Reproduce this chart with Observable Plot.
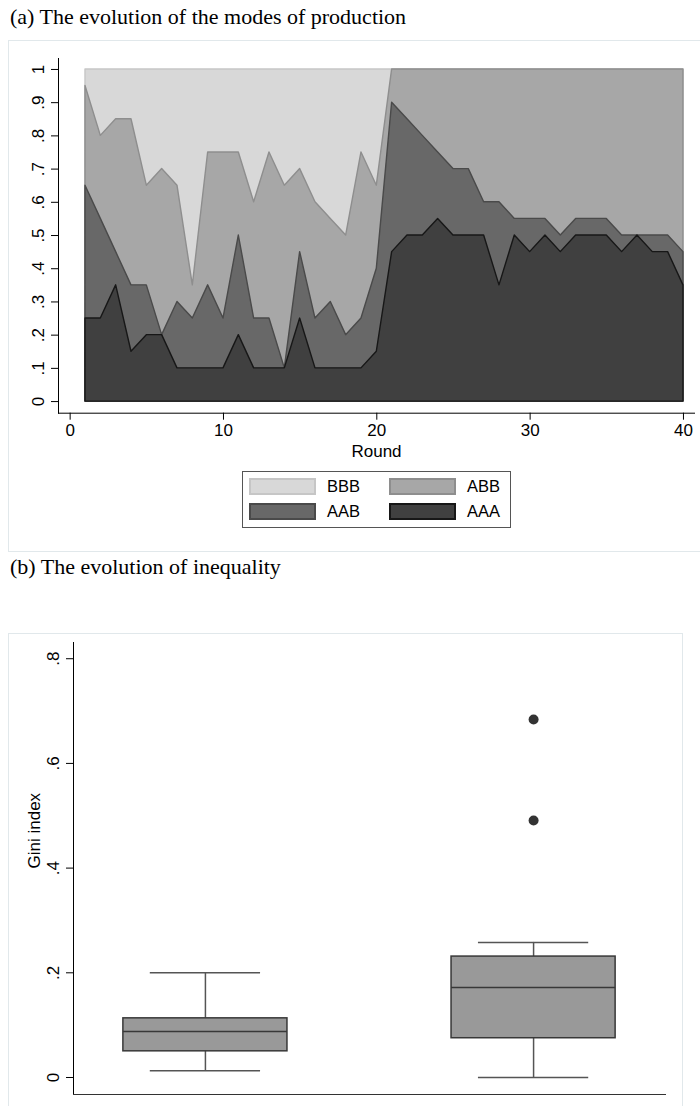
<!DOCTYPE html>
<html>
<head>
<meta charset="utf-8">
<script src="https://cdn.jsdelivr.net/npm/d3@7"></script>
<script src="https://cdn.jsdelivr.net/npm/@observablehq/plot@0.6"></script>
<style>
  body { margin: 0; background: #fff; }
  #page { position: relative; width: 700px; height: 1106px; overflow: hidden;
          font-family: "Liberation Sans", Arial, sans-serif; }
  .title { position: absolute; left: 10px; font-family: "Liberation Serif", "Times New Roman", serif;
           font-size: 22px; line-height: 26px; color: #000; white-space: nowrap; }
  .panel { position: absolute; border: 1px solid #e1e8eb; box-sizing: border-box; }
  .chart { position: absolute; left: 0; }
  .chart g[aria-label$="tick label"] { font-size: 17px; }
  #legend { position: absolute; left: 242px; top: 471px; width: 269px; height: 57px;
            border: 1px solid #555; box-sizing: border-box; background: #fff; }
  .key { position: absolute; width: 67px; height: 17px; border: 2px solid; box-sizing: border-box; }
  .lab { position: absolute; font-size: 16.5px; line-height: 17px; color: #000; }
</style>
</head>
<body>
<div id="page">
  <div class="panel" style="left:8px; top:40px; width:720px; height:512px;"></div>
  <div class="panel" style="left:8px; top:633px; width:675px; height:500px;"></div>
  <div class="title" style="top:4px;">(a) The evolution of the modes of production</div>
  <div class="title" style="top:554px;">(b) The evolution of inequality</div>
  <div class="chart" id="top" style="top:0px;"></div>
  <div id="legend"></div>
  <div class="chart" id="bottom" style="top:600px;"></div>
</div>
<script>
// ---- Panel (a): share of groups using each mode of production, by round ----
const rounds = [1, 2, 3, 4, 5, 6, 7, 8, 9, 10, 11, 12, 13, 14, 15, 16, 17, 18, 19, 20,
                21, 22, 23, 24, 25, 26, 27, 28, 29, 30, 31, 32, 33, 34, 35, 36, 37, 38, 39, 40];
const shareAAA = [.25, .25, .35, .15, .20, .20, .10, .10, .10, .10, .20, .10, .10, .10, .25, .10, .10, .10, .10, .15,
                  .45, .50, .50, .55, .50, .50, .50, .35, .50, .45, .50, .45, .50, .50, .50, .45, .50, .45, .45, .35];
const shareAAB = [.40, .30, .10, .20, .15, .00, .20, .15, .25, .15, .30, .15, .15, .00, .20, .15, .20, .10, .15, .25,
                  .45, .35, .30, .20, .20, .20, .10, .25, .05, .10, .05, .05, .05, .05, .05, .05, .00, .05, .05, .10];
const shareABB = [.30, .25, .40, .50, .30, .50, .35, .10, .40, .50, .25, .35, .50, .55, .25, .35, .25, .30, .50, .25,
                  .10, .15, .20, .25, .30, .30, .40, .40, .45, .45, .45, .50, .45, .45, .45, .50, .50, .50, .50, .55];
const shareBBB = [.05, .20, .15, .15, .35, .30, .35, .65, .25, .25, .25, .40, .25, .35, .30, .40, .45, .50, .25, .35,
                  0, 0, 0, 0, 0, 0, 0, 0, 0, 0, 0, 0, 0, 0, 0, 0, 0, 0, 0, 0];
const modes = ["BBB", "ABB", "AAB", "AAA"];          // legend / drawing order
const roundTicks = [0, 10, 20, 30, 40];
const shareTicks = [0, .1, .2, .3, .4, .5, .6, .7, .8, .9, 1];

// ---- Panel (b): Gini index box plots ----
const boxGroups = [1, 2];
const giniLow = [0.013, 0.0];
const giniQ1 = [0.050, 0.075];
const giniMedian = [0.088, 0.172];
const giniQ3 = [0.113, 0.231];
const giniHigh = [0.200, 0.258];
const outlierGroup = [2, 2];
const outlierGini = [0.491, 0.684];
const giniTicks = [0, .2, .4, .6, .8];

const fills = {BBB: "#d8d8d8", ABB: "#a7a7a7", AAB: "#686868", AAA: "#404040"};
const strokes = {BBB: "#c6c6c6", ABB: "#8e8e8e", AAB: "#4a4a4a", AAA: "#171717"};
const shareOf = {AAA: shareAAA, AAB: shareAAB, ABB: shareABB, BBB: shareBBB};

// cumulative top of each mode, stacking AAA at the bottom
const rows = [];
rounds.forEach((r, i) => {
  let cum = 0;
  for (const m of ["AAA", "AAB", "ABB", "BBB"]) {
    cum += shareOf[m][i];
    rows.push({round: r, mode: m, top: Math.round(cum * 1000) / 1000});
  }
});

const stataFmt = d => d === 0 ? "0" : d === 1 ? "1" : d3.format(".1f")(d).replace(/^0/, "");
const font = {fontFamily: "'Liberation Sans', Arial, sans-serif", fontSize: "17px", background: "transparent", color: "#000"};

const topChart = Plot.plot({
  width: 700, height: 470,
  marginLeft: 58, marginRight: 6, marginTop: 58, marginBottom: 57.3,
  style: font,
  x: {domain: [-0.76, 40.72], label: null},
  y: {domain: [-0.035, 1.033], label: null},
  marks: [
    ...modes.map(m => Plot.areaY(rows.filter(d => d.mode === m), {
      x: "round", y1: 0, y2: "top", fill: fills[m], stroke: strokes[m], strokeWidth: 1.4, curve: "linear"
    })),
    Plot.frame({anchor: "left", stroke: "#000"}),
    Plot.frame({anchor: "bottom", stroke: "#000"}),
    Plot.axisY({ticks: shareTicks, tickFormat: stataFmt, tickRotate: -90, tickSize: 7, tickPadding: 8, label: null}),
    Plot.axisX({ticks: roundTicks, tickSize: 7, tickPadding: 4, label: null}),
    Plot.text(["Round"], {frameAnchor: "bottom", dy: 44, fontSize: 17})
  ]
});
document.getElementById("top").appendChild(topChart);

// legend: two columns, BBB/ABB on the first row, AAB/AAA on the second
const legend = document.getElementById("legend");
modes.forEach((m, i) => {
  const col = i % 2, row = Math.floor(i / 2);
  const key = document.createElement("div");
  key.className = "key";
  key.style.left = (6 + col * 140) + "px";
  key.style.top = (6 + row * 25) + "px";
  key.style.background = fills[m];
  key.style.borderColor = strokes[m];
  legend.appendChild(key);
  const lab = document.createElement("div");
  lab.className = "lab";
  lab.textContent = m;
  lab.style.left = (84 + col * 140) + "px";
  lab.style.top = (6 + row * 25) + "px";
  legend.appendChild(lab);
});

const boxes = boxGroups.map((g, i) => ({
  g, lo: giniLow[i], q1: giniQ1[i], med: giniMedian[i], q3: giniQ3[i], hi: giniHigh[i]
}));
const outliers = outlierGroup.map((g, i) => ({g, gini: outlierGini[i]}));
const half = 0.25, cap = 0.168;

const bottomChart = Plot.plot({
  width: 700, height: 506,
  marginLeft: 73, marginRight: 35, marginTop: 42, marginBottom: 12,
  style: font,
  x: {domain: [0.598, 2.402], axis: null},
  y: {domain: [-0.0325, 0.831], label: null},
  marks: [
    Plot.ruleX(boxes, {x: "g", y1: "q3", y2: "hi", stroke: "#555", strokeWidth: 1.5}),
    Plot.ruleX(boxes, {x: "g", y1: "lo", y2: "q1", stroke: "#555", strokeWidth: 1.5}),
    Plot.ruleY(boxes, {y: "hi", x1: d => d.g - cap, x2: d => d.g + cap, stroke: "#555", strokeWidth: 1.5}),
    Plot.ruleY(boxes, {y: "lo", x1: d => d.g - cap, x2: d => d.g + cap, stroke: "#555", strokeWidth: 1.5}),
    Plot.rectY(boxes, {x1: d => d.g - half, x2: d => d.g + half, y1: "q1", y2: "q3",
                       fill: "#999", stroke: "#383838", strokeWidth: 1.5}),
    Plot.ruleY(boxes, {y: "med", x1: d => d.g - half, x2: d => d.g + half, stroke: "#383838", strokeWidth: 1.5}),
    Plot.dot(outliers, {x: "g", y: "gini", r: 5, fill: "#333", stroke: "none"}),
    Plot.frame({anchor: "left", stroke: "#000"}),
    Plot.frame({anchor: "bottom", stroke: "#333"}),
    Plot.axisY({ticks: giniTicks, tickFormat: stataFmt, tickRotate: -90, tickSize: 7, tickPadding: 8, label: null}),
    Plot.text(["Gini index"], {frameAnchor: "left", rotate: -90, dx: -39, fontSize: 17})
  ]
});
document.getElementById("bottom").appendChild(bottomChart);
</script>
</body>
</html>
